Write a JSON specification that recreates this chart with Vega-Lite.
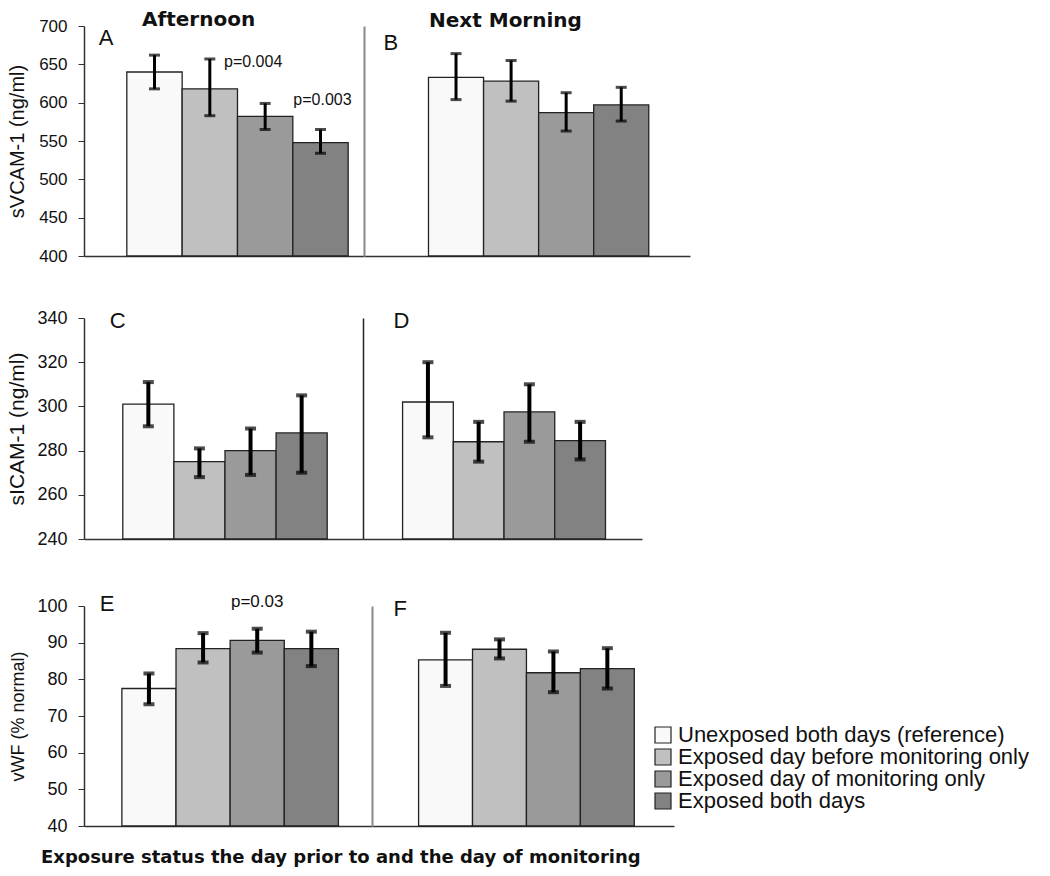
{
  "$schema": "https://vega.github.io/schema/vega-lite/v6.json",
  "padding": {"left": 6, "top": 10, "right": 0, "bottom": 0},
  "config": {
    "view": {"stroke": null},
    "font": "Liberation Sans",
    "axis": {"grid": false, "labelOverlap": false},
    "legend": {"orient": "none", "legendX": 568, "legendY": 698, "labelFont": "Liberation Sans", "labelFontSize": 22, "labelColor": "#111", "labelLimit": 0, "symbolType": "square", "symbolSize": 256, "symbolStrokeColor": "#222", "symbolStrokeWidth": 1.2, "rowPadding": 0, "labelOffset": 4, "padding": 0}
  },
  "title": {"text": "Exposure status the day prior to and the day of monitoring", "orient": "bottom", "anchor": "start", "frame": "group", "font": "DejaVu Sans", "fontSize": 18, "fontWeight": "bold", "color": "#111", "offset": 14, "dx": -43},
  "datasets": {
    "bars": [
      {"m": "VCAM", "t": "Afternoon", "g": "Unexposed both days (reference)", "mean": 640, "lo": 618, "hi": 662},
      {"m": "VCAM", "t": "Afternoon", "g": "Exposed day before monitoring only", "mean": 618, "lo": 583, "hi": 657},
      {"m": "VCAM", "t": "Afternoon", "g": "Exposed day of monitoring only", "mean": 582, "lo": 565, "hi": 599},
      {"m": "VCAM", "t": "Afternoon", "g": "Exposed both days", "mean": 548, "lo": 534, "hi": 565},
      {"m": "VCAM", "t": "Next Morning", "g": "Unexposed both days (reference)", "mean": 633, "lo": 604, "hi": 664},
      {"m": "VCAM", "t": "Next Morning", "g": "Exposed day before monitoring only", "mean": 628, "lo": 602, "hi": 655},
      {"m": "VCAM", "t": "Next Morning", "g": "Exposed day of monitoring only", "mean": 587, "lo": 563, "hi": 613},
      {"m": "VCAM", "t": "Next Morning", "g": "Exposed both days", "mean": 597, "lo": 576, "hi": 620},
      {"m": "ICAM", "t": "Afternoon", "g": "Unexposed both days (reference)", "mean": 301, "lo": 291, "hi": 311},
      {"m": "ICAM", "t": "Afternoon", "g": "Exposed day before monitoring only", "mean": 275, "lo": 268, "hi": 281},
      {"m": "ICAM", "t": "Afternoon", "g": "Exposed day of monitoring only", "mean": 280, "lo": 269, "hi": 290},
      {"m": "ICAM", "t": "Afternoon", "g": "Exposed both days", "mean": 288, "lo": 270, "hi": 305},
      {"m": "ICAM", "t": "Next Morning", "g": "Unexposed both days (reference)", "mean": 302, "lo": 286, "hi": 320},
      {"m": "ICAM", "t": "Next Morning", "g": "Exposed day before monitoring only", "mean": 284, "lo": 275, "hi": 293},
      {"m": "ICAM", "t": "Next Morning", "g": "Exposed day of monitoring only", "mean": 297.5, "lo": 284, "hi": 310},
      {"m": "ICAM", "t": "Next Morning", "g": "Exposed both days", "mean": 284.5, "lo": 276, "hi": 293},
      {"m": "vWF", "t": "Afternoon", "g": "Unexposed both days (reference)", "mean": 77.5, "lo": 73.2, "hi": 81.6},
      {"m": "vWF", "t": "Afternoon", "g": "Exposed day before monitoring only", "mean": 88.4, "lo": 84.6, "hi": 92.6},
      {"m": "vWF", "t": "Afternoon", "g": "Exposed day of monitoring only", "mean": 90.6, "lo": 87.3, "hi": 93.8},
      {"m": "vWF", "t": "Afternoon", "g": "Exposed both days", "mean": 88.4, "lo": 83.6, "hi": 93.0},
      {"m": "vWF", "t": "Next Morning", "g": "Unexposed both days (reference)", "mean": 85.3, "lo": 78.2, "hi": 92.7},
      {"m": "vWF", "t": "Next Morning", "g": "Exposed day before monitoring only", "mean": 88.2, "lo": 85.7, "hi": 90.9},
      {"m": "vWF", "t": "Next Morning", "g": "Exposed day of monitoring only", "mean": 81.8, "lo": 76.5, "hi": 87.6},
      {"m": "vWF", "t": "Next Morning", "g": "Exposed both days", "mean": 82.9, "lo": 77.5, "hi": 88.5}
    ],
    "notes": [
      {"p": "A", "g": "Unexposed both days (reference)", "y": 700, "text": "A"},
      {"p": "B", "g": "Unexposed both days (reference)", "y": 700, "text": "B"},
      {"p": "C", "g": "Unexposed both days (reference)", "y": 340, "text": "C"},
      {"p": "D", "g": "Unexposed both days (reference)", "y": 340, "text": "D"},
      {"p": "E", "g": "Unexposed both days (reference)", "y": 100, "text": "E"},
      {"p": "F", "g": "Unexposed both days (reference)", "y": 100, "text": "F"},
      {"p": "A1", "g": "Exposed day of monitoring only", "y": 652.7, "text": "p=0.004"},
      {"p": "A2", "g": "Exposed both days", "y": 603, "text": "p=0.003"},
      {"p": "E1", "g": "Exposed day of monitoring only", "y": 101, "text": "p=0.03"}
    ]
  },
  "spacing": 45,
  "vconcat": [
    {
      "spacing": 0,
      "bounds": "flush",
      "hconcat": [
        {
          "width": 280, "height": 230,
          "title": {"text": "Afternoon", "anchor": "start", "frame": "group", "dx": 58, "offset": -29, "baseline": "alphabetic", "font": "DejaVu Sans", "fontSize": 20, "fontWeight": "bold", "color": "#111"},
          "layer": [
            {
              "data": {"name": "bars"},
              "transform": [{"filter": "datum.m === 'VCAM' && datum.t === 'Afternoon'"}],
              "mark": {"type": "bar", "stroke": "#222", "strokeWidth": 1.3},
              "encoding": {
                "x": {"field": "g", "type": "nominal", "scale": {"domain": ["Unexposed both days (reference)", "Exposed day before monitoring only", "Exposed day of monitoring only", "Exposed both days"], "paddingInner": 0, "paddingOuter": 0.53, "align": 0.73}, "axis": {"labels": false, "ticks": false, "title": null, "domainColor": "#333", "domainWidth": 1.5}},
                "y": {"field": "mean", "type": "quantitative", "title": "sVCAM-1 (ng/ml)", "scale": {"domain": [400, 700], "nice": false, "zero": false}, "axis": {"values": [400, 450, 500, 550, 600, 650, 700], "tickSize": 6, "tickColor": "#333", "domainColor": "#333", "domainWidth": 1.5, "labelFontSize": 17, "labelColor": "#111", "labelPadding": 11, "titleFontSize": 20, "titleFontWeight": "normal", "titleColor": "#111", "minExtent": 40, "maxExtent": 40, "titlePadding": 17}},
                "y2": {"datum": 400},
                "color": {"field": "g", "type": "nominal", "title": null, "scale": {"domain": ["Unexposed both days (reference)", "Exposed day before monitoring only", "Exposed day of monitoring only", "Exposed both days"], "range": ["#f9f9f9", "#c0c0c0", "#9a9a9a", "#828282"]}}
              }
            },
            {
              "data": {"name": "bars"},
              "transform": [{"filter": "datum.m === 'VCAM' && datum.t === 'Afternoon'"}],
              "mark": {"type": "errorbar", "ticks": {"size": 11, "thickness": 3, "color": "#000"}, "rule": {"strokeWidth": 3, "color": "#000"}},
              "encoding": {
                "x": {"field": "g", "type": "nominal", "scale": {"domain": ["Unexposed both days (reference)", "Exposed day before monitoring only", "Exposed day of monitoring only", "Exposed both days"], "paddingInner": 0, "paddingOuter": 0.53, "align": 0.73}},
                "y": {"field": "lo", "type": "quantitative", "title": "sVCAM-1 (ng/ml)", "axis": {"values": [400, 450, 500, 550, 600, 650, 700], "tickSize": 6, "tickColor": "#333", "domainColor": "#333", "domainWidth": 1.5, "labelFontSize": 17, "labelColor": "#111", "labelPadding": 11, "titleFontSize": 20, "titleFontWeight": "normal", "titleColor": "#111", "minExtent": 40, "maxExtent": 40, "titlePadding": 17}},
                "y2": {"field": "hi"}
              }
            },
            {
              "data": {"name": "notes"},
              "transform": [{"filter": "datum.p === 'A'"}],
              "mark": {"type": "text", "align": "left", "baseline": "alphabetic", "fontSize": 22, "color": "#111", "dx": -28, "dy": 19},
              "encoding": {
                "x": {"field": "g", "type": "nominal", "bandPosition": 0, "scale": {"domain": ["Unexposed both days (reference)", "Exposed day before monitoring only", "Exposed day of monitoring only", "Exposed both days"], "paddingInner": 0, "paddingOuter": 0.53, "align": 0.73}},
                "y": {"field": "y", "type": "quantitative", "title": "sVCAM-1 (ng/ml)", "axis": {"values": [400, 450, 500, 550, 600, 650, 700], "tickSize": 6, "tickColor": "#333", "domainColor": "#333", "domainWidth": 1.5, "labelFontSize": 17, "labelColor": "#111", "labelPadding": 11, "titleFontSize": 20, "titleFontWeight": "normal", "titleColor": "#111", "minExtent": 40, "maxExtent": 40, "titlePadding": 17}},
                "text": {"field": "text"}
              }
            },
            {
              "data": {"name": "notes"},
              "transform": [{"filter": "datum.p === 'A1'"}],
              "mark": {"type": "text", "align": "center", "baseline": "middle", "fontSize": 16, "color": "#111", "dx": -12},
              "encoding": {
                "x": {"field": "g", "type": "nominal", "scale": {"domain": ["Unexposed both days (reference)", "Exposed day before monitoring only", "Exposed day of monitoring only", "Exposed both days"], "paddingInner": 0, "paddingOuter": 0.53, "align": 0.73}},
                "y": {"field": "y", "type": "quantitative", "title": "sVCAM-1 (ng/ml)", "axis": {"values": [400, 450, 500, 550, 600, 650, 700], "tickSize": 6, "tickColor": "#333", "domainColor": "#333", "domainWidth": 1.5, "labelFontSize": 17, "labelColor": "#111", "labelPadding": 11, "titleFontSize": 20, "titleFontWeight": "normal", "titleColor": "#111", "minExtent": 40, "maxExtent": 40, "titlePadding": 17}},
                "text": {"field": "text"}
              }
            },
            {
              "data": {"name": "notes"},
              "transform": [{"filter": "datum.p === 'A2'"}],
              "mark": {"type": "text", "align": "center", "baseline": "middle", "fontSize": 16, "color": "#111", "dx": 2},
              "encoding": {
                "x": {"field": "g", "type": "nominal", "scale": {"domain": ["Unexposed both days (reference)", "Exposed day before monitoring only", "Exposed day of monitoring only", "Exposed both days"], "paddingInner": 0, "paddingOuter": 0.53, "align": 0.73}},
                "y": {"field": "y", "type": "quantitative", "title": "sVCAM-1 (ng/ml)", "axis": {"values": [400, 450, 500, 550, 600, 650, 700], "tickSize": 6, "tickColor": "#333", "domainColor": "#333", "domainWidth": 1.5, "labelFontSize": 17, "labelColor": "#111", "labelPadding": 11, "titleFontSize": 20, "titleFontWeight": "normal", "titleColor": "#111", "minExtent": 40, "maxExtent": 40, "titlePadding": 17}},
                "text": {"field": "text"}
              }
            }
          ]
        },
        {
          "width": 326, "height": 230,
          "title": {"text": "Next Morning", "anchor": "start", "frame": "group", "dx": 65, "offset": -21, "baseline": "alphabetic", "font": "DejaVu Sans", "fontSize": 20, "fontWeight": "bold", "color": "#111"},
          "layer": [
            {
              "data": {"name": "bars"},
              "transform": [{"filter": "datum.m === 'VCAM' && datum.t === 'Next Morning'"}],
              "mark": {"type": "bar", "stroke": "#222", "strokeWidth": 1.3},
              "encoding": {
                "x": {"field": "g", "type": "nominal", "scale": {"domain": ["Unexposed both days (reference)", "Exposed day before monitoring only", "Exposed day of monitoring only", "Exposed both days"], "paddingInner": 0, "paddingOuter": 0.96, "align": 0.61}, "axis": {"labels": false, "ticks": false, "title": null, "domainColor": "#333", "domainWidth": 1.5}},
                "y": {"field": "mean", "type": "quantitative", "title": null, "scale": {"domain": [400, 700], "nice": false, "zero": false}, "axis": {"labels": false, "ticks": false, "title": null, "domainColor": "#888", "domainWidth": 2, "minExtent": 0, "maxExtent": 0}},
                "y2": {"datum": 400},
                "color": {"field": "g", "type": "nominal", "title": null, "scale": {"domain": ["Unexposed both days (reference)", "Exposed day before monitoring only", "Exposed day of monitoring only", "Exposed both days"], "range": ["#f9f9f9", "#c0c0c0", "#9a9a9a", "#828282"]}}
              }
            },
            {
              "data": {"name": "bars"},
              "transform": [{"filter": "datum.m === 'VCAM' && datum.t === 'Next Morning'"}],
              "mark": {"type": "errorbar", "ticks": {"size": 11, "thickness": 3, "color": "#000"}, "rule": {"strokeWidth": 3, "color": "#000"}},
              "encoding": {
                "x": {"field": "g", "type": "nominal", "scale": {"domain": ["Unexposed both days (reference)", "Exposed day before monitoring only", "Exposed day of monitoring only", "Exposed both days"], "paddingInner": 0, "paddingOuter": 0.96, "align": 0.61}},
                "y": {"field": "lo", "type": "quantitative", "title": null},
                "y2": {"field": "hi"}
              }
            },
            {
              "data": {"name": "notes"},
              "transform": [{"filter": "datum.p === 'B'"}],
              "mark": {"type": "text", "align": "left", "baseline": "alphabetic", "fontSize": 22, "color": "#111", "dx": -45, "dy": 24},
              "encoding": {
                "x": {"field": "g", "type": "nominal", "bandPosition": 0, "scale": {"domain": ["Unexposed both days (reference)", "Exposed day before monitoring only", "Exposed day of monitoring only", "Exposed both days"], "paddingInner": 0, "paddingOuter": 0.96, "align": 0.61}},
                "y": {"field": "y", "type": "quantitative", "title": null},
                "text": {"field": "text"}
              }
            }
          ]
        }
      ]
    },
    {
      "spacing": 0,
      "bounds": "flush",
      "hconcat": [
        {
          "width": 279, "height": 221,
          "layer": [
            {
              "data": {"name": "bars"},
              "transform": [{"filter": "datum.m === 'ICAM' && datum.t === 'Afternoon'"}],
              "mark": {"type": "bar", "stroke": "#222", "strokeWidth": 1.3},
              "encoding": {
                "x": {"field": "g", "type": "nominal", "scale": {"domain": ["Unexposed both days (reference)", "Exposed day before monitoring only", "Exposed day of monitoring only", "Exposed both days"], "paddingInner": 0, "paddingOuter": 0.73, "align": 0.52}, "axis": {"labels": false, "ticks": false, "title": null, "domainColor": "#333", "domainWidth": 1.5}},
                "y": {"field": "mean", "type": "quantitative", "title": "sICAM-1 (ng/ml)", "scale": {"domain": [240, 340], "nice": false, "zero": false}, "axis": {"values": [240, 260, 280, 300, 320, 340], "tickSize": 6, "tickColor": "#333", "domainColor": "#333", "domainWidth": 1.5, "labelFontSize": 18, "labelColor": "#111", "labelPadding": 11, "titleFontSize": 21, "titleFontWeight": "normal", "titleColor": "#111", "minExtent": 40, "maxExtent": 40, "titlePadding": 17}},
                "y2": {"datum": 240},
                "color": {"field": "g", "type": "nominal", "title": null, "scale": {"domain": ["Unexposed both days (reference)", "Exposed day before monitoring only", "Exposed day of monitoring only", "Exposed both days"], "range": ["#f9f9f9", "#c0c0c0", "#9a9a9a", "#828282"]}}
              }
            },
            {
              "data": {"name": "bars"},
              "transform": [{"filter": "datum.m === 'ICAM' && datum.t === 'Afternoon'"}],
              "mark": {"type": "errorbar", "ticks": {"size": 11, "thickness": 4, "color": "#000"}, "rule": {"strokeWidth": 4, "color": "#000"}},
              "encoding": {
                "x": {"field": "g", "type": "nominal", "scale": {"domain": ["Unexposed both days (reference)", "Exposed day before monitoring only", "Exposed day of monitoring only", "Exposed both days"], "paddingInner": 0, "paddingOuter": 0.73, "align": 0.52}},
                "y": {"field": "lo", "type": "quantitative", "title": "sICAM-1 (ng/ml)", "axis": {"values": [240, 260, 280, 300, 320, 340], "tickSize": 6, "tickColor": "#333", "domainColor": "#333", "domainWidth": 1.5, "labelFontSize": 18, "labelColor": "#111", "labelPadding": 11, "titleFontSize": 21, "titleFontWeight": "normal", "titleColor": "#111", "minExtent": 40, "maxExtent": 40, "titlePadding": 17}},
                "y2": {"field": "hi"}
              }
            },
            {
              "data": {"name": "notes"},
              "transform": [{"filter": "datum.p === 'C'"}],
              "mark": {"type": "text", "align": "left", "baseline": "alphabetic", "fontSize": 22, "color": "#111", "dx": -13, "dy": 10},
              "encoding": {
                "x": {"field": "g", "type": "nominal", "bandPosition": 0, "scale": {"domain": ["Unexposed both days (reference)", "Exposed day before monitoring only", "Exposed day of monitoring only", "Exposed both days"], "paddingInner": 0, "paddingOuter": 0.73, "align": 0.52}},
                "y": {"field": "y", "type": "quantitative", "title": "sICAM-1 (ng/ml)", "axis": {"values": [240, 260, 280, 300, 320, 340], "tickSize": 6, "tickColor": "#333", "domainColor": "#333", "domainWidth": 1.5, "labelFontSize": 18, "labelColor": "#111", "labelPadding": 11, "titleFontSize": 21, "titleFontWeight": "normal", "titleColor": "#111", "minExtent": 40, "maxExtent": 40, "titlePadding": 17}},
                "text": {"field": "text"}
              }
            }
          ]
        },
        {
          "width": 279, "height": 221,
          "layer": [
            {
              "data": {"name": "bars"},
              "transform": [{"filter": "datum.m === 'ICAM' && datum.t === 'Next Morning'"}],
              "mark": {"type": "bar", "stroke": "#222", "strokeWidth": 1.3},
              "encoding": {
                "x": {"field": "g", "type": "nominal", "scale": {"domain": ["Unexposed both days (reference)", "Exposed day before monitoring only", "Exposed day of monitoring only", "Exposed both days"], "paddingInner": 0, "paddingOuter": 0.75, "align": 0.52}, "axis": {"labels": false, "ticks": false, "title": null, "domainColor": "#333", "domainWidth": 1.5}},
                "y": {"field": "mean", "type": "quantitative", "title": null, "scale": {"domain": [240, 340], "nice": false, "zero": false}, "axis": {"labels": false, "ticks": false, "title": null, "domainColor": "#222", "domainWidth": 1.5, "minExtent": 0, "maxExtent": 0}},
                "y2": {"datum": 240},
                "color": {"field": "g", "type": "nominal", "title": null, "scale": {"domain": ["Unexposed both days (reference)", "Exposed day before monitoring only", "Exposed day of monitoring only", "Exposed both days"], "range": ["#f9f9f9", "#c0c0c0", "#9a9a9a", "#828282"]}}
              }
            },
            {
              "data": {"name": "bars"},
              "transform": [{"filter": "datum.m === 'ICAM' && datum.t === 'Next Morning'"}],
              "mark": {"type": "errorbar", "ticks": {"size": 11, "thickness": 4, "color": "#000"}, "rule": {"strokeWidth": 4, "color": "#000"}},
              "encoding": {
                "x": {"field": "g", "type": "nominal", "scale": {"domain": ["Unexposed both days (reference)", "Exposed day before monitoring only", "Exposed day of monitoring only", "Exposed both days"], "paddingInner": 0, "paddingOuter": 0.75, "align": 0.52}},
                "y": {"field": "lo", "type": "quantitative", "title": null},
                "y2": {"field": "hi"}
              }
            },
            {
              "data": {"name": "notes"},
              "transform": [{"filter": "datum.p === 'D'"}],
              "mark": {"type": "text", "align": "left", "baseline": "alphabetic", "fontSize": 22, "color": "#111", "dx": -9, "dy": 10},
              "encoding": {
                "x": {"field": "g", "type": "nominal", "bandPosition": 0, "scale": {"domain": ["Unexposed both days (reference)", "Exposed day before monitoring only", "Exposed day of monitoring only", "Exposed both days"], "paddingInner": 0, "paddingOuter": 0.75, "align": 0.52}},
                "y": {"field": "y", "type": "quantitative", "title": null},
                "text": {"field": "text"}
              }
            }
          ]
        }
      ]
    },
    {
      "spacing": 0,
      "bounds": "flush",
      "hconcat": [
        {
          "width": 288, "height": 220,
          "layer": [
            {
              "data": {"name": "bars"},
              "transform": [{"filter": "datum.m === 'vWF' && datum.t === 'Afternoon'"}],
              "mark": {"type": "bar", "stroke": "#222", "strokeWidth": 1.3},
              "encoding": {
                "x": {"field": "g", "type": "nominal", "scale": {"domain": ["Unexposed both days (reference)", "Exposed day before monitoring only", "Exposed day of monitoring only", "Exposed both days"], "paddingInner": 0, "paddingOuter": 0.66, "align": 0.53}, "axis": {"labels": false, "ticks": false, "title": null, "domainColor": "#333", "domainWidth": 1.5}},
                "y": {"field": "mean", "type": "quantitative", "title": "vWF (% normal)", "scale": {"domain": [40, 100], "nice": false, "zero": false}, "axis": {"values": [40, 50, 60, 70, 80, 90, 100], "tickSize": 6, "tickColor": "#333", "domainColor": "#333", "domainWidth": 1.5, "labelFontSize": 18, "labelColor": "#111", "labelPadding": 11, "titleFontSize": 18, "titleFontWeight": "normal", "titleColor": "#111", "minExtent": 40, "maxExtent": 40, "titlePadding": 17}},
                "y2": {"datum": 40},
                "color": {"field": "g", "type": "nominal", "title": null, "scale": {"domain": ["Unexposed both days (reference)", "Exposed day before monitoring only", "Exposed day of monitoring only", "Exposed both days"], "range": ["#f9f9f9", "#c0c0c0", "#9a9a9a", "#828282"]}}
              }
            },
            {
              "data": {"name": "bars"},
              "transform": [{"filter": "datum.m === 'vWF' && datum.t === 'Afternoon'"}],
              "mark": {"type": "errorbar", "ticks": {"size": 11, "thickness": 4, "color": "#000"}, "rule": {"strokeWidth": 4, "color": "#000"}},
              "encoding": {
                "x": {"field": "g", "type": "nominal", "scale": {"domain": ["Unexposed both days (reference)", "Exposed day before monitoring only", "Exposed day of monitoring only", "Exposed both days"], "paddingInner": 0, "paddingOuter": 0.66, "align": 0.53}},
                "y": {"field": "lo", "type": "quantitative", "title": "vWF (% normal)", "axis": {"values": [40, 50, 60, 70, 80, 90, 100], "tickSize": 6, "tickColor": "#333", "domainColor": "#333", "domainWidth": 1.5, "labelFontSize": 18, "labelColor": "#111", "labelPadding": 11, "titleFontSize": 18, "titleFontWeight": "normal", "titleColor": "#111", "minExtent": 40, "maxExtent": 40, "titlePadding": 17}},
                "y2": {"field": "hi"}
              }
            },
            {
              "data": {"name": "notes"},
              "transform": [{"filter": "datum.p === 'E'"}],
              "mark": {"type": "text", "align": "left", "baseline": "alphabetic", "fontSize": 22, "color": "#111", "dx": -22, "dy": 5},
              "encoding": {
                "x": {"field": "g", "type": "nominal", "bandPosition": 0, "scale": {"domain": ["Unexposed both days (reference)", "Exposed day before monitoring only", "Exposed day of monitoring only", "Exposed both days"], "paddingInner": 0, "paddingOuter": 0.66, "align": 0.53}},
                "y": {"field": "y", "type": "quantitative", "title": "vWF (% normal)", "axis": {"values": [40, 50, 60, 70, 80, 90, 100], "tickSize": 6, "tickColor": "#333", "domainColor": "#333", "domainWidth": 1.5, "labelFontSize": 18, "labelColor": "#111", "labelPadding": 11, "titleFontSize": 18, "titleFontWeight": "normal", "titleColor": "#111", "minExtent": 40, "maxExtent": 40, "titlePadding": 17}},
                "text": {"field": "text"}
              }
            },
            {
              "data": {"name": "notes"},
              "transform": [{"filter": "datum.p === 'E1'"}],
              "mark": {"type": "text", "align": "center", "baseline": "middle", "fontSize": 17, "color": "#111"},
              "encoding": {
                "x": {"field": "g", "type": "nominal", "scale": {"domain": ["Unexposed both days (reference)", "Exposed day before monitoring only", "Exposed day of monitoring only", "Exposed both days"], "paddingInner": 0, "paddingOuter": 0.66, "align": 0.53}},
                "y": {"field": "y", "type": "quantitative", "title": "vWF (% normal)", "axis": {"values": [40, 50, 60, 70, 80, 90, 100], "tickSize": 6, "tickColor": "#333", "domainColor": "#333", "domainWidth": 1.5, "labelFontSize": 18, "labelColor": "#111", "labelPadding": 11, "titleFontSize": 18, "titleFontWeight": "normal", "titleColor": "#111", "minExtent": 40, "maxExtent": 40, "titlePadding": 17}},
                "text": {"field": "text"}
              }
            }
          ]
        },
        {
          "width": 302, "height": 220,
          "layer": [
            {
              "data": {"name": "bars"},
              "transform": [{"filter": "datum.m === 'vWF' && datum.t === 'Next Morning'"}],
              "mark": {"type": "bar", "stroke": "#222", "strokeWidth": 1.3},
              "encoding": {
                "x": {"field": "g", "type": "nominal", "scale": {"domain": ["Unexposed both days (reference)", "Exposed day before monitoring only", "Exposed day of monitoring only", "Exposed both days"], "paddingInner": 0, "paddingOuter": 0.8, "align": 0.54}, "axis": {"labels": false, "ticks": false, "title": null, "domainColor": "#333", "domainWidth": 1.5}},
                "y": {"field": "mean", "type": "quantitative", "title": null, "scale": {"domain": [40, 100], "nice": false, "zero": false}, "axis": {"labels": false, "ticks": false, "title": null, "domainColor": "#888", "domainWidth": 2, "minExtent": 0, "maxExtent": 0}},
                "y2": {"datum": 40},
                "color": {"field": "g", "type": "nominal", "title": null, "scale": {"domain": ["Unexposed both days (reference)", "Exposed day before monitoring only", "Exposed day of monitoring only", "Exposed both days"], "range": ["#f9f9f9", "#c0c0c0", "#9a9a9a", "#828282"]}}
              }
            },
            {
              "data": {"name": "bars"},
              "transform": [{"filter": "datum.m === 'vWF' && datum.t === 'Next Morning'"}],
              "mark": {"type": "errorbar", "ticks": {"size": 11, "thickness": 4, "color": "#000"}, "rule": {"strokeWidth": 4, "color": "#000"}},
              "encoding": {
                "x": {"field": "g", "type": "nominal", "scale": {"domain": ["Unexposed both days (reference)", "Exposed day before monitoring only", "Exposed day of monitoring only", "Exposed both days"], "paddingInner": 0, "paddingOuter": 0.8, "align": 0.54}},
                "y": {"field": "lo", "type": "quantitative", "title": null},
                "y2": {"field": "hi"}
              }
            },
            {
              "data": {"name": "notes"},
              "transform": [{"filter": "datum.p === 'F'"}],
              "mark": {"type": "text", "align": "left", "baseline": "alphabetic", "fontSize": 22, "color": "#111", "dx": -25, "dy": 10},
              "encoding": {
                "x": {"field": "g", "type": "nominal", "bandPosition": 0, "scale": {"domain": ["Unexposed both days (reference)", "Exposed day before monitoring only", "Exposed day of monitoring only", "Exposed both days"], "paddingInner": 0, "paddingOuter": 0.8, "align": 0.54}},
                "y": {"field": "y", "type": "quantitative", "title": null},
                "text": {"field": "text"}
              }
            }
          ]
        }
      ]
    }
  ]
}
